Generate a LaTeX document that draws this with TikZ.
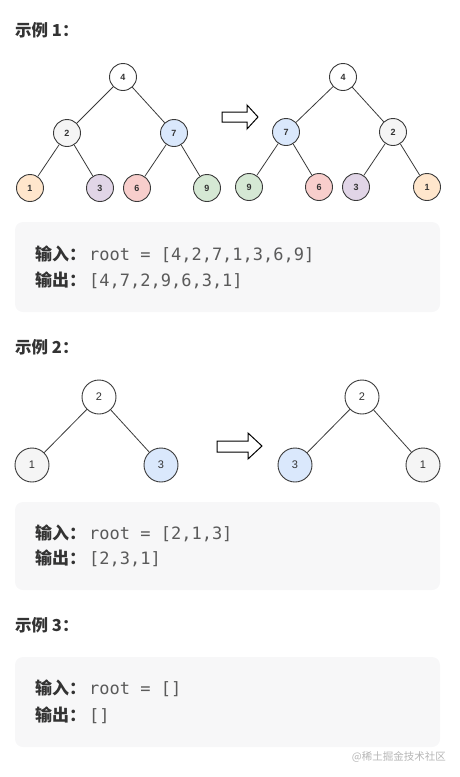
\documentclass[tikz,border=0pt]{standalone}
\usepackage{fontspec}
\setmainfont{Liberation Sans}
\setmonofont{DejaVu Sans Mono}
\newfontfamily\cjk{Noto Sans CJK SC}
\definecolor{ink}{HTML}{333333}
\definecolor{codegray}{HTML}{5A5A5A}
\definecolor{codebg}{HTML}{F7F7F8}
\definecolor{edgegray}{HTML}{3A3A3A}
\definecolor{wmgray}{HTML}{B5B5B5}
\definecolor{fOrange}{HTML}{FFE6CC}
\definecolor{fPurple}{HTML}{E1D5E7}
\definecolor{fRed}{HTML}{F8CECC}
\definecolor{fGreen}{HTML}{D5E8D4}
\definecolor{fBlue}{HTML}{DAE8FC}
\definecolor{fGray}{HTML}{F5F5F5}
\newcommand{\inlabel}{{\fontsize{17}{17}\selectfont\cjk\bfseries\color{ink}输入：}\hspace{3pt}}
\newcommand{\outlabel}{{\fontsize{17}{17}\selectfont\cjk\bfseries\color{ink}输出：}\hspace{3pt}}
\newcommand{\codetxt}[1]{{\fontsize{17}{17}\selectfont\ttfamily\color{codegray}#1}}
\begin{document}
\begin{tikzpicture}[x=1pt,y=-1pt,
  vtx/.style={circle,draw=edgegray,line width=0.9pt,fill=white,minimum size=27pt,inner sep=0pt,
    font=\fontsize{9}{9}\selectfont\bfseries,text=ink},
  bigvtx/.style={vtx,minimum size=34pt,font=\fontsize{11}{11}\selectfont},
  edge/.style={draw=edgegray,line width=0.8pt},
  title/.style={anchor=west,inner sep=0pt,font=\fontsize{16.5}{16.5}\selectfont\cjk\bfseries,text=ink},
  codeline/.style={anchor=west,inner sep=0pt},
  blockarrow/.style={draw=black,line width=1pt,fill=white,line join=miter}]
\useasboundingbox (0,0) rectangle (459,777);

% Example 1
\node[title] (t1) at (15,30) {示例 1：};

% tree before
\node[vtx] (a4) at (123,77) {4};
\node[vtx,fill=fGray] (a2) at (67,133) {2};
\node[vtx,fill=fBlue] (a7) at (174,133) {7};
\node[vtx,fill=fOrange] (a1) at (30,188) {1};
\node[vtx,fill=fPurple] (a3) at (100,188) {3};
\node[vtx,fill=fRed] (a6) at (137,188) {6};
\node[vtx,fill=fGreen] (a9) at (207,188) {9};
\draw[edge] (a4) -- (a2);
\draw[edge] (a4) -- (a7);
\draw[edge] (a2) -- (a1);
\draw[edge] (a2) -- (a3);
\draw[edge] (a7) -- (a6);
\draw[edge] (a7) -- (a9);

\draw[blockarrow] (222,112) -- (247,112) -- (247,105) -- (258,117) -- (247,129) -- (247,122) -- (222,122) -- cycle;

% tree after
\node[vtx] (b4) at (343,77) {4};
\node[vtx,fill=fBlue] (b7) at (286,132) {7};
\node[vtx,fill=fGray] (b2) at (393,132) {2};
\node[vtx,fill=fGreen] (b9) at (249,187) {9};
\node[vtx,fill=fRed] (b6) at (319,187) {6};
\node[vtx,fill=fPurple] (b3) at (356,187) {3};
\node[vtx,fill=fOrange] (b1) at (427,187) {1};
\draw[edge] (b4) -- (b7);
\draw[edge] (b4) -- (b2);
\draw[edge] (b7) -- (b9);
\draw[edge] (b7) -- (b6);
\draw[edge] (b2) -- (b3);
\draw[edge] (b2) -- (b1);

\fill[codebg,rounded corners=8pt] (15,222) rectangle (440,312);
\node[codeline] (in1) at (35,254) {\inlabel\codetxt{root = [4,2,7,1,3,6,9]}};
\node[codeline] (out1) at (35,280) {\outlabel\codetxt{[4,7,2,9,6,3,1]}};

% Example 2
\node[title] (t2) at (15,347) {示例 2：};

\node[bigvtx] (c2) at (99,397) {2};
\node[bigvtx,fill=fGray] (c1) at (32,465) {1};
\node[bigvtx,fill=fBlue] (c3) at (161,465) {3};
\draw[edge] (c2) -- (c1);
\draw[edge] (c2) -- (c3);

\draw[blockarrow] (217,441) -- (248,441) -- (248,433) -- (262,446) -- (248,459) -- (248,452) -- (217,452) -- cycle;

\node[bigvtx] (d2) at (362,397) {2};
\node[bigvtx,fill=fBlue] (d3) at (295,465) {3};
\node[bigvtx,fill=fGray] (d1) at (423,465) {1};
\draw[edge] (d2) -- (d3);
\draw[edge] (d2) -- (d1);

\fill[codebg,rounded corners=8pt] (15,502) rectangle (440,590);
\node[codeline] (in2) at (35,533) {\inlabel\codetxt{root = [2,1,3]}};
\node[codeline] (out2) at (35,558) {\outlabel\codetxt{[2,3,1]}};

% Example 3
\node[title] (t3) at (15,625) {示例 3：};

\fill[codebg,rounded corners=8pt] (15,657) rectangle (440,747);
\node[codeline] (in3) at (35,688) {\inlabel\codetxt{root = []}};
\node[codeline] (out3) at (35,715) {\outlabel\codetxt{[]}};

\node[anchor=east,inner sep=0pt,font=\fontsize{10.5}{10.5}\selectfont\cjk,text=wmgray] (wm) at (446,757) {@稀土掘金技术社区};
\end{tikzpicture}
\end{document}
